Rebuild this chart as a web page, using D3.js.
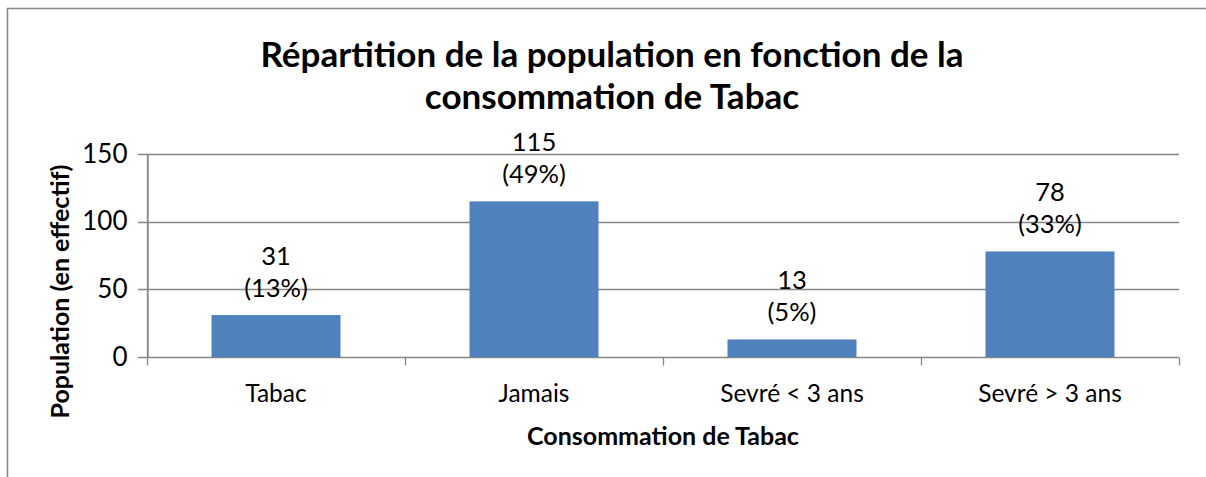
<!DOCTYPE html>
<html>
<head>
<meta charset="utf-8">
<script src="https://cdn.jsdelivr.net/npm/d3@7"></script>
<style>
  body { margin: 0; background: #fff; overflow: hidden; }
  svg { display: block; }
  svg text { font-family: Lato, "Open Sans", sans-serif; fill: #000; }
</style>
</head>
<body>
<div id="chart"></div>
<script>
// chart values
let categories = ["Tabac", "Jamais", "Sevré < 3 ans", "Sevré > 3 ans"];
let counts = [31, 115, 13, 78];
let percents = ["13%", "49%", "5%", "33%"];
let yTicks = [0, 50, 100, 150];
let titleLines = ["Répartition de la population en fonction de la", "consommation de Tabac"];
let xTitle = "Consommation de Tabac";
let yTitle = "Population (en effectif)";

let width = 1206, height = 477;
let margin = { top: 154, right: 27, bottom: 120, left: 147 };
let gridColour = "#868686";

let svg = d3.select("#chart")
  .append("svg")
  .attr("width", width)
  .attr("height", height);

// outer chart border (only the left and top sides are in the frame)
svg.append("path")
  .attr("d", `M7.5,${height} V8.5 H${width}`)
  .attr("fill", "none")
  .attr("stroke", gridColour)
  .attr("stroke-width", 1.5);

let x = d3.scaleBand()
  .domain(categories)
  .range([margin.left, width - margin.right])
  .paddingInner(0.5)
  .paddingOuter(0.25);

let y = d3.scaleLinear()
  .domain([0, 150])
  .range([height - margin.bottom, margin.top]);

// gridlines
svg.append("g")
  .selectAll("line")
  .data(yTicks)
  .join("line")
  .attr("x1", margin.left - 9)
  .attr("x2", width - margin.right)
  .attr("y1", (d) => Math.round(y(d)) + 0.5)
  .attr("y2", (d) => Math.round(y(d)) + 0.5)
  .attr("stroke", gridColour)
  .attr("stroke-width", 1.3);

// y axis
let yAxis = svg.append("g")
  .attr("transform", `translate(${margin.left + 0.5},0)`)
  .call(d3.axisLeft(y).tickValues(yTicks).tickSize(0).tickPadding(20));
yAxis.select(".domain").attr("stroke", gridColour).attr("stroke-width", 1.3);
yAxis.selectAll("text")
  .style("font-family", "Lato, sans-serif")
  .attr("font-size", 26)
  .attr("fill", "#000");

// x axis: ticks on the band boundaries
let xBase = Math.round(y(0)) + 0.5;
let boundaries = d3.range(categories.length + 1).map(
  (i) => margin.left + (i * (width - margin.right - margin.left)) / categories.length
);
svg.append("g")
  .selectAll("line")
  .data(boundaries)
  .join("line")
  .attr("x1", (d) => Math.round(d) + 0.5)
  .attr("x2", (d) => Math.round(d) + 0.5)
  .attr("y1", (d, i) => (i === 0 ? margin.top : xBase))
  .attr("y2", xBase + 8)
  .attr("stroke", gridColour)
  .attr("stroke-width", 1.3);

svg.append("g")
  .selectAll("text")
  .data(categories)
  .join("text")
  .attr("x", (d) => x(d) + x.bandwidth() / 2)
  .attr("y", xBase + 44)
  .attr("text-anchor", "middle")
  .attr("font-size", 24.5)
  .text((d) => d);

// bars
svg.append("g")
  .selectAll("rect")
  .data(counts)
  .join("rect")
  .attr("x", (d, i) => x(categories[i]))
  .attr("width", x.bandwidth())
  .attr("y", (d) => y(d))
  .attr("height", (d) => y(0) - y(d))
  .attr("fill", "#4F81BD");

// data labels
let labels = svg.append("g")
  .selectAll("text")
  .data(counts)
  .join("text")
  .attr("text-anchor", "middle")
  .attr("font-size", 25.5);
labels.append("tspan")
  .attr("x", (d, i) => x(categories[i]) + x.bandwidth() / 2)
  .attr("y", (d) => y(d) - 50)
  .text((d) => d);
labels.append("tspan")
  .attr("x", (d, i) => x(categories[i]) + x.bandwidth() / 2)
  .attr("y", (d) => y(d) - 18)
  .text((d, i) => `(${percents[i]})`);

// titles
svg.append("text")
  .attr("text-anchor", "middle")
  .attr("font-size", 35)
  .attr("font-weight", "bold")
  .selectAll("tspan")
  .data(titleLines)
  .join("tspan")
  .attr("x", 612)
  .attr("y", (d, i) => 67 + i * 42)
  .text((d) => d);

svg.append("text")
  .attr("x", (margin.left + width - margin.right) / 2)
  .attr("y", 445)
  .attr("text-anchor", "middle")
  .attr("font-size", 25)
  .attr("font-weight", "bold")
  .text(xTitle);

svg.append("text")
  .attr("transform", `translate(69,${(margin.top + y(0)) / 2 + 36}) rotate(-90)`)
  .attr("text-anchor", "middle")
  .attr("font-size", 25)
  .attr("font-weight", "bold")
  .text(yTitle);
</script>
</body>
</html>
